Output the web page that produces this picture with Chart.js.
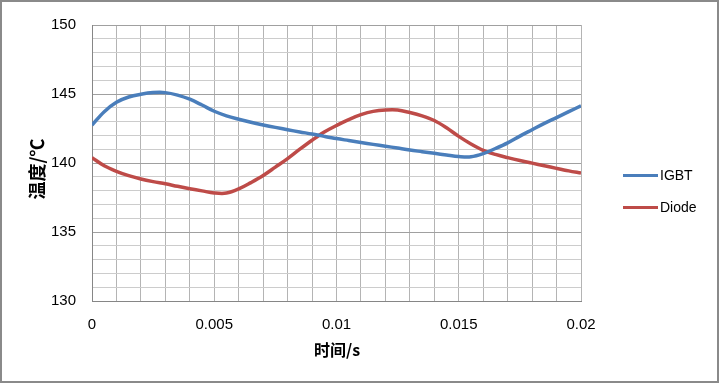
<!DOCTYPE html>
<html>
<head>
<meta charset="utf-8">
<script src="https://cdn.jsdelivr.net/npm/chart.js@4.4.0/dist/chart.umd.min.js"></script>
<style>
html,body{margin:0;padding:0;background:#fff;}
#wrap{width:720px;height:384px;position:relative;}
</style>
</head>
<body>
<div id="wrap"><canvas id="c" width="720" height="384"></canvas></div>
<script>
const timeValues = [0,0.0005,0.001,0.0015,0.002,0.0025,0.003,0.0035,0.004,0.0045,0.005,0.0055,0.006,0.0065,0.007,0.0075,0.008,0.0085,0.009,0.0095,0.01,0.0105,0.011,0.0115,0.012,0.0125,0.013,0.0135,0.014,0.0145,0.015,0.0155,0.016,0.0165,0.017,0.0175,0.018,0.0185,0.019,0.0195,0.02];
const igbtTemps = [142.74,143.72,144.40,144.78,144.98,145.10,145.10,144.92,144.62,144.20,143.75,143.42,143.17,142.95,142.76,142.58,142.41,142.25,142.10,141.93,141.77,141.63,141.49,141.35,141.22,141.08,140.94,140.82,140.70,140.58,140.47,140.45,140.68,141.05,141.46,141.95,142.41,142.87,143.29,143.72,144.14];
const diodeTemps = [140.39,139.80,139.40,139.08,138.84,138.65,138.49,138.31,138.14,137.98,137.83,137.82,138.12,138.58,139.09,139.70,140.32,141.00,141.65,142.25,142.72,143.15,143.50,143.74,143.84,143.84,143.66,143.42,143.08,142.55,141.93,141.38,140.92,140.62,140.39,140.18,139.99,139.80,139.61,139.43,139.27];
const seriesNames = ['IGBT','Diode'];
const seriesColors = ['#4a7ebb','#be4b48'];
const xTickLabels = ['0','0.005','0.01','0.015','0.02'];
const yTickLabels = ['130','135','140','145','150'];
const xTitle = '时间/s';
const yTitle = '温度/℃';

const toPts = (arr) => arr.map((v,i)=>({x:timeValues[i], y:v}));
const tickFont = {family:'"Liberation Sans", Arial, sans-serif', size:15};

const frame = {
  id:'frame',
  afterDraw(chart){
    const ctx = chart.ctx;
    ctx.save();
    ctx.strokeStyle = '#8a8a8a';
    ctx.lineWidth = 2;
    ctx.strokeRect(1,1,717,381);
    // axis titles
    ctx.fillStyle = '#000';
    ctx.textAlign = 'center';
    ctx.textBaseline = 'middle';
    ctx.font = 'bold 16px "Noto Sans CJK SC", sans-serif';
    ctx.fillText(xTitle, 337, 350);
    ctx.save();
    ctx.translate(37, 169);
    ctx.rotate(-Math.PI/2);
    ctx.font = 'bold 18px "Noto Sans CJK SC", sans-serif';
    ctx.fillText(yTitle, 0, 0);
    ctx.restore();
    // legend
    ctx.textAlign = 'left';
    ctx.font = '14px "Liberation Sans", Arial, sans-serif';
    const ys = [175.5, 207.5];
    chart.data.datasets.forEach((ds,i)=>{
      ctx.strokeStyle = ds.borderColor;
      ctx.lineWidth = 3;
      ctx.beginPath();
      ctx.moveTo(623, ys[i]);
      ctx.lineTo(658, ys[i]);
      ctx.stroke();
      ctx.fillText(ds.label, 660, ys[i]+0.5);
    });
    ctx.restore();
  }
};

new Chart(document.getElementById('c'), {
  type:'line',
  data:{
    datasets:[
      {label:seriesNames[0], data:toPts(igbtTemps), borderColor:seriesColors[0], backgroundColor:seriesColors[0], borderWidth:3.5, pointRadius:0, tension:0.35},
      {label:seriesNames[1], data:toPts(diodeTemps), borderColor:seriesColors[1], backgroundColor:seriesColors[1], borderWidth:3.5, pointRadius:0, tension:0.35}
    ]
  },
  options:{
    responsive:false,
    animation:false,
    devicePixelRatio:1,
    layout:{padding:{left:0,right:139,top:20,bottom:0}},
    plugins:{legend:{display:false}, tooltip:{enabled:false}},
    scales:{
      x:{
        type:'linear', min:0, max:0.02,
        afterBuildTicks(scale){
          const t=[]; for(let i=0;i<=20;i++) t.push({value:i/1000}); scale.ticks=t;
        },
        afterFit(scale){ scale.height = 83; },
        ticks:{
          autoSkip:false, maxRotation:0, minRotation:0, padding:15, color:'#000', font:tickFont,
          callback(v){ const k=Math.round(v*1000); return (k%5===0)? xTickLabels[k/5] : ''; }
        },
        grid:{ color:'#b4b4b4', lineWidth:1, drawTicks:false },
        border:{display:true, color:'#868686', width:1},
        title:{display:false}
      },
      y:{
        type:'linear', min:130, max:150,
        afterBuildTicks(scale){
          const t=[]; for(let v=130; v<=150; v++) t.push({value:v}); scale.ticks=t;
        },
        afterFit(scale){ scale.width = 92; },
        ticks:{
          autoSkip:false, padding:16, color:'#000', font:tickFont,
          callback(v){ return (Math.round(v)%5===0)? yTickLabels[(Math.round(v)-130)/5] : ''; }
        },
        grid:{
          color(ctx){ const v = ctx.tick ? ctx.tick.value : 0; return (Math.round(v)%5===0)? '#a0a0a0' : '#cccccc'; },
          lineWidth:1, drawTicks:false
        },
        border:{display:true, color:'#868686', width:1},
        title:{display:false}
      }
    }
  },
  plugins:[frame]
});
</script>
</body>
</html>
